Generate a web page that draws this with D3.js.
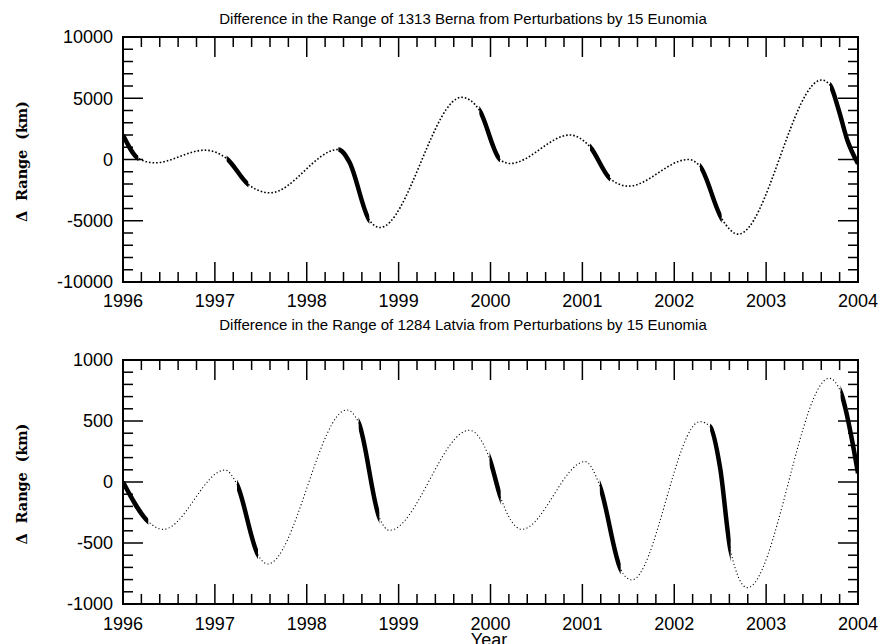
<!DOCTYPE html>
<html>
<head>
<meta charset="utf-8">
<script src="https://cdn.jsdelivr.net/npm/d3@7"></script>
<style>
  body { margin: 0; background: #fff; }
  svg { display: block; }
  .tick-label { font-family: "Liberation Sans", Arial, sans-serif; font-size: 18px; }
  .title { font-family: "Liberation Sans", Arial, sans-serif; font-size: 15px; }
  .ylabel { font-family: "DejaVu Serif", "Liberation Serif", serif; font-size: 14.5px; font-weight: bold; }
</style>
</head>
<body>
<svg id="chart" width="880" height="644"></svg>
<script>
// Year labels on the time axis
const years = [1996, 1997, 1998, 1999, 2000, 2001, 2002, 2003, 2004];

// 1313 Berna: difference in range (km)
const bernaTicks = [-10000, -5000, 0, 5000, 10000];
const bernaYear = [1996.0, 1996.167, 1996.348, 1996.89, 1997.128, 1997.364, 1997.6,
  1998.344, 1998.463, 1998.681, 1998.797, 1999.686, 1999.878, 2000.103, 2000.212,
  2000.865, 2001.083, 2001.30, 2001.5, 2002.153, 2002.28, 2002.516, 2002.697,
  2003.605, 2003.695, 2003.79, 2003.883, 2004.0];
const bernaRange = [2000, 82, -272, 762, 82, -2040, -2720,
  816, -190, -4952, -5551, 5078, 4041, 0, -327,
  2000, 1034, -1551, -2177, 0, -544, -4816, -6095,
  6490, 6082, 4041, 1592, -350];
// stretches drawn with the heavy line
const bernaThick = [[1996.0, 1996.167], [1997.128, 1997.364], [1998.344, 1998.681],
  [1999.878, 2000.103], [2001.083, 2001.30], [2002.28, 2002.516], [2003.695, 2004.0]];

// 1284 Latvia: difference in range (km)
const latviaTicks = [-1000, -500, 0, 500, 1000];
const latviaYear = [1996.0, 1996.275, 1996.44, 1997.11, 1997.24, 1997.47, 1997.575,
  1998.435, 1998.565, 1998.79, 1998.90, 1999.77, 1999.99, 2000.111, 2000.34,
  2001.03, 2001.19, 2001.417, 2001.537, 2002.28, 2002.39, 2002.50, 2002.614,
  2002.795, 2003.688, 2003.81, 2004.0];
const latviaRange = [0, -325, -388, 98, -19, -598, -672,
  590, 486, -292, -396, 424, 190, -128, -388,
  167, -33, -716, -803, 495, 454, 112, -566,
  -866, 850, 740, 71];
const latviaThick = [[1996.0, 1996.275], [1997.24, 1997.47], [1998.565, 1998.79],
  [1999.99, 2000.111], [2001.19, 2001.417], [2002.39, 2002.614], [2003.81, 2004.0]];

const svg = d3.select('#chart');

const left = 123, right = 858;
const x = d3.scaleLinear().domain([1996, 2004]).range([left, right]);

const panels = [
  {
    id: 'berna',
    title: 'Difference in the Range of 1313 Berna from Perturbations by 15 Eunomia',
    titleY: 24,
    top: 37, bottom: 282,
    max: 10000,
    ticks: bernaTicks, t: bernaYear, v: bernaRange, thick: bernaThick,
    dotWidth: 1.6, dotDash: '1.6 2',
    yearY: 307
  },
  {
    id: 'latvia',
    title: 'Difference in the Range of 1284 Latvia from Perturbations by 15 Eunomia',
    titleY: 330,
    top: 360, bottom: 604,
    max: 1000,
    ticks: latviaTicks, t: latviaYear, v: latviaRange, thick: latviaThick,
    dotWidth: 1.1, dotDash: '1.1 2.4',
    yearY: 630
  }
];

panels.forEach(function (p) {
  const y = d3.scaleLinear().domain([-p.max, p.max]).range([p.bottom, p.top]);
  const g = svg.append('g');
  const pts = p.t.map((t, i) => [t, p.v[i]]);

  const line = d3.line()
    .x(d => x(d[0]))
    .y(d => y(d[1]))
    .curve(d3.curveMonotoneX);

  // Title
  g.append('text')
    .attr('class', 'title')
    .attr('x', 463)
    .attr('y', p.titleY)
    .attr('text-anchor', 'middle')
    .text(p.title);

  // Dotted full curve
  g.append('path')
    .datum(pts)
    .attr('d', line)
    .attr('fill', 'none')
    .attr('stroke', '#000')
    .attr('stroke-width', p.dotWidth)
    .attr('stroke-dasharray', p.dotDash);

  // Heavy stretches: same curve, clipped to each time window
  p.thick.forEach(function (r, i) {
    const cid = 'clip-' + p.id + '-' + i;
    svg.append('clipPath').attr('id', cid)
      .append('rect')
      .attr('x', x(r[0]))
      .attr('y', p.top)
      .attr('width', x(r[1]) - x(r[0]))
      .attr('height', p.bottom - p.top);
    g.append('path')
      .datum(pts)
      .attr('d', line)
      .attr('fill', 'none')
      .attr('stroke', '#000')
      .attr('stroke-width', 4.5)
      .attr('clip-path', 'url(#' + cid + ')');
  });

  // Ticks on all four sides, pointing inwards
  const xMinor = x.ticks(40);
  const yMinor = y.ticks(20);
  const isMajorX = t => Math.abs(t - Math.round(t)) < 1e-6;
  const isMajorY = v => p.ticks.some(k => Math.abs(k - v) < 1e-6);

  const tickG = g.append('g').attr('stroke', '#000').attr('stroke-width', 1.5);
  xMinor.forEach(function (t) {
    const len = isMajorX(t) ? 20 : 10;
    tickG.append('line').attr('x1', x(t)).attr('x2', x(t)).attr('y1', p.top).attr('y2', p.top + len);
    tickG.append('line').attr('x1', x(t)).attr('x2', x(t)).attr('y1', p.bottom).attr('y2', p.bottom - len);
  });
  yMinor.forEach(function (v) {
    const len = isMajorY(v) ? 20 : 10;
    tickG.append('line').attr('x1', left).attr('x2', left + len).attr('y1', y(v)).attr('y2', y(v));
    tickG.append('line').attr('x1', right).attr('x2', right - len).attr('y1', y(v)).attr('y2', y(v));
  });

  // Frame
  g.append('rect')
    .attr('x', left).attr('y', p.top)
    .attr('width', right - left).attr('height', p.bottom - p.top)
    .attr('fill', 'none')
    .attr('stroke', '#000')
    .attr('stroke-width', 2);

  // Y tick labels
  g.selectAll('.ylab')
    .data(p.ticks)
    .enter()
    .append('text')
    .attr('class', 'tick-label')
    .attr('x', 113)
    .attr('y', d => y(d))
    .attr('dy', '0.36em')
    .attr('text-anchor', 'end')
    .text(d => d);

  // Year labels
  g.selectAll('.xlab')
    .data(years)
    .enter()
    .append('text')
    .attr('class', 'tick-label')
    .attr('x', d => x(d))
    .attr('y', p.yearY)
    .attr('text-anchor', 'middle')
    .text(d => d);

  // Y axis title
  const cy = (p.top + p.bottom) / 2 + 2;
  g.append('text')
    .attr('class', 'ylabel')
    .attr('transform', 'translate(27,' + cy + ') rotate(-90)')
    .attr('text-anchor', 'middle')
    .attr('textLength', 121)
    .attr('lengthAdjust', 'spacing')
    .style('white-space', 'pre')
    .text('\u0394  Range  (km)');
});

// X axis title
svg.append('text')
  .attr('class', 'tick-label')
  .attr('x', 489)
  .attr('y', 646)
  .attr('text-anchor', 'middle')
  .text('Year');
</script>
</body>
</html>
